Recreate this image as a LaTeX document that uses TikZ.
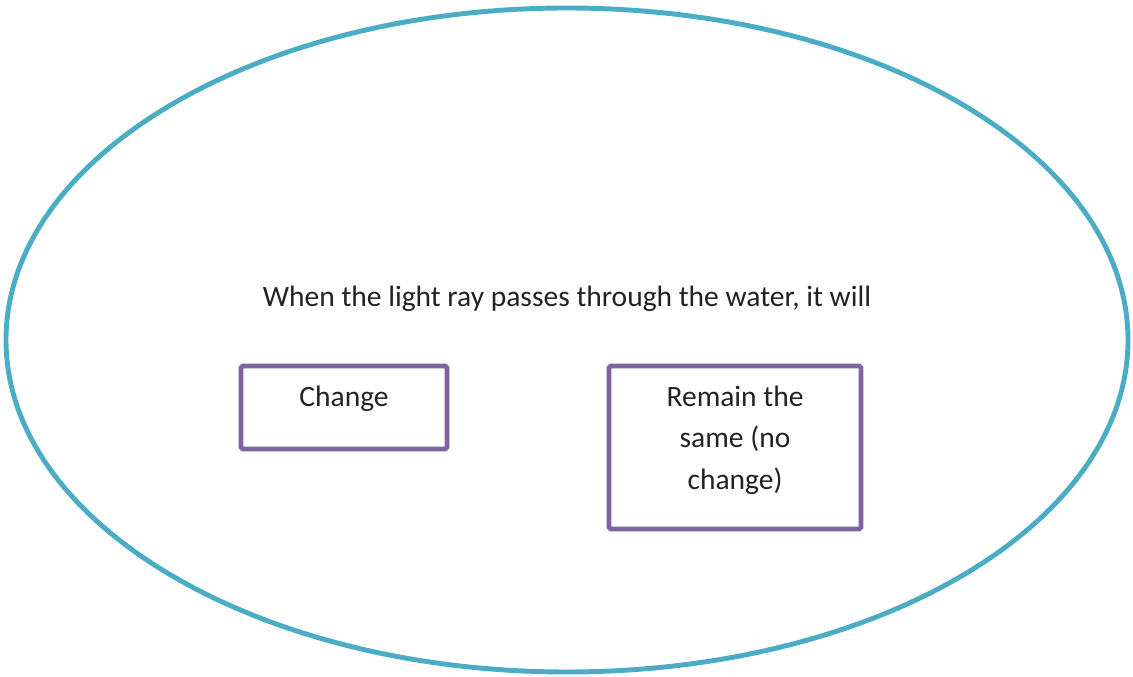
\documentclass[tikz,border=0pt]{standalone}
\usepackage{fontspec}
\setmainfont{Carlito}
\usepackage{tikz}
\usetikzlibrary{
  positioning,
  shapes.geometric,
}

\definecolor{ringblue}{HTML}{4BACC6}
\definecolor{boxpurple}{HTML}{8064A2}
\definecolor{inkgray}{HTML}{222222}

\tikzset{
  txt/.style={text=inkgray, font=\fontsize{16.8}{23.5}\selectfont, inner sep=0pt},
  choicebox/.style={draw=boxpurple, line width=2.7pt, rounded corners=1pt},
}

\begin{document}
\begin{tikzpicture}

\useasboundingbox (0,0) rectangle (22.66,13.54);

\node[ellipse, draw=ringblue, line width=2.8pt, minimum width=22.44cm, minimum height=13.28cm, inner sep=0pt] (ring) at (11.34,6.74) {};

\node[txt] (question) at (11.34,7.56) {When the light ray passes through the water, it will};

\node[choicebox, minimum width=4.12cm, minimum height=1.66cm] (change) at (6.88,5.39) {};
\node[txt] (changetxt) at ([yshift=-0.70cm]change.north) {Change};

\node[choicebox, minimum width=5.04cm, minimum height=3.26cm] (same) at (14.70,4.59) {};
\node[txt, align=center] (sametxt) at ([yshift=-1.53cm]same.north) {Remain the\\same (no\\change)};

\end{tikzpicture}
\end{document}
